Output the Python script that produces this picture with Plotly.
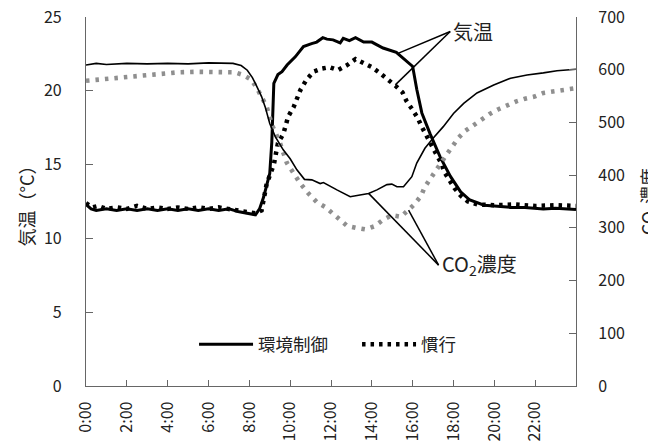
import plotly.graph_objects as go

# ---------------- data ----------------
# air temperature, environmental control (°C)
t_temp_ctrl = [0.0, 0.25, 0.5, 1.0, 1.5, 2.0, 2.5, 3.0, 3.5, 4.0, 4.5, 5.0, 5.5, 6.0, 6.5, 7.0,
               7.5, 8.0, 8.3, 8.5, 8.7, 9.0, 9.1, 9.2, 9.4, 9.6, 9.85, 10.25, 10.65, 11.05, 11.3,
               11.6, 11.8, 12.1, 12.45, 12.6, 12.9, 13.2, 13.6, 14.0, 14.55, 15.2, 15.55, 16.0,
               16.2, 16.45, 16.85, 17.35, 17.85, 18.35, 18.8, 19.5, 20.0, 20.8, 21.5, 22.4, 23.0, 24.0]
temp_ctrl = [12.3, 12.0, 11.9, 12.0, 11.9, 12.0, 11.9, 12.0, 11.9, 12.0, 11.9, 12.0, 11.9, 12.0, 11.9, 12.0,
             11.8, 11.7, 11.6, 12.0, 12.8, 14.4, 16.5, 20.5, 21.1, 21.3, 21.75, 22.3, 23.0, 23.2, 23.3,
             23.6, 23.5, 23.45, 23.25, 23.55, 23.4, 23.6, 23.3, 23.3, 22.9, 22.6, 22.2, 21.65,
             20.1, 18.5, 17.1, 15.5, 14.2, 13.15, 12.6, 12.25, 12.2, 12.1, 12.1, 12.0, 12.05, 11.95]

# air temperature, conventional (°C)
t_temp_conv = [0.0, 0.3, 0.6, 1.0, 1.5, 2.0, 2.5, 3.0, 3.5, 4.0, 4.5, 5.0, 5.5, 6.0, 6.5, 7.0, 7.5,
               8.0, 8.3, 8.6, 8.85, 9.2, 9.4, 9.67, 9.9, 10.17, 10.5, 10.8, 11.15, 11.55, 11.93,
               12.34, 12.8, 13.2, 13.6, 14.0, 14.4, 14.77, 15.15, 15.5, 15.7, 16.0, 16.25, 16.45,
               16.7, 16.95, 17.16, 17.4, 17.55, 17.8, 18.05, 18.35, 18.7, 19.2, 20.0, 21.0, 22.0, 23.0, 24.0]
temp_conv = [12.4, 12.1, 12.2, 12.0, 12.1, 12.0, 12.2, 12.0, 12.1, 12.0, 12.1, 12.0, 12.1, 12.0, 12.1, 12.0, 11.9,
             11.8, 11.7, 11.9, 13.7, 15.0, 16.45, 17.1, 18.25, 18.9, 20.05, 20.75, 21.3, 21.5, 21.6,
             21.4, 21.75, 22.15, 21.9, 21.6, 21.2, 20.8, 20.35, 19.9, 19.3, 18.7, 18.15, 17.55,
             16.95, 16.3, 15.7, 15.1, 14.5, 13.95, 13.4, 12.9, 12.5, 12.3, 12.25, 12.3, 12.2, 12.25, 12.2]

# CO2 concentration, environmental control (ppm)
t_co2_ctrl = [0.0, 0.5, 1.0, 2.0, 3.0, 4.0, 5.0, 6.0, 7.2, 7.6, 7.9, 8.15, 8.37, 8.6, 8.78, 9.0, 9.27,
              9.66, 10.0, 10.33, 10.7, 11.06, 11.47, 11.63, 12.29, 12.94, 13.35, 13.84, 14.25, 14.74,
              14.98, 15.23, 15.55, 15.96, 16.2, 16.6, 17.0, 17.5, 18.0, 18.5, 19.15, 19.97, 20.8,
              21.6, 22.4, 23.07, 24.0]
co2_ctrl = [609, 612, 610, 612, 611, 612, 611, 613, 612, 608, 599, 585, 568, 549, 529, 498, 473,
            448, 431, 410, 392, 391, 384, 386, 372, 359, 362, 365, 372, 382,
            383, 378, 378, 397, 423, 451, 470, 492, 517, 536, 556, 571, 584,
            590, 594, 598, 601]

# CO2 concentration, conventional (ppm)
t_co2_conv = [0.0, 0.5, 1.5, 2.5, 3.5, 4.5, 5.4, 6.7, 7.3, 7.7, 8.1, 8.37, 8.6, 8.85, 9.1, 9.5, 9.84,
              10.16, 10.5, 10.9, 11.3, 11.7, 12.04, 12.42, 12.78, 13.24, 13.7, 14.13, 14.54, 14.98,
              15.43, 16.04, 16.4, 16.6, 16.9, 17.16, 17.44, 17.68, 17.97, 18.25, 18.58, 18.96, 19.35,
              19.77, 20.2, 20.62, 21.08, 21.5, 21.96, 22.4, 22.88, 23.37, 24.0]
co2_conv = [579, 581, 584, 588, 592, 595, 596, 596, 595, 590, 581, 565, 546, 530, 496, 461, 423,
            403, 384, 365, 349, 340, 329, 316, 304, 300, 297, 303, 315, 324,
            321, 343, 360, 378, 394, 411, 426, 440, 455, 471, 484, 495, 506,
            516, 525, 533, 540, 545, 549, 556, 559, 562, 565]

x_tickvals = [0, 2, 4, 6, 8, 10, 12, 14, 16, 18, 20, 22]
x_ticktext = ["0:00", "2:00", "4:00", "6:00", "8:00", "10:00", "12:00", "14:00",
              "16:00", "18:00", "20:00", "22:00"]

# ---------------- figure ----------------
FONT = "Noto Sans CJK JP"
TXT = "#222222"
AX = "#666666"

fig = go.Figure()
fig.add_trace(go.Scatter(x=t_co2_conv, y=co2_conv, yaxis="y2", mode="lines",
                         line=dict(color="#8f8f8f", width=4.6, dash="3.5px,6px"), showlegend=False))
fig.add_trace(go.Scatter(x=t_co2_ctrl, y=co2_ctrl, yaxis="y2", mode="lines",
                         line=dict(color="black", width=1.6), showlegend=False))
fig.add_trace(go.Scatter(x=t_temp_conv, y=temp_conv, mode="lines", name="慣行",
                         line=dict(color="black", width=4.5, dash="3.5px,5px")))
fig.add_trace(go.Scatter(x=t_temp_ctrl, y=temp_ctrl, mode="lines", name="環境制御",
                         line=dict(color="black", width=3)))

# pointer lines for labels
for (x0, y0, x1, y1) in [(17.84, 24.02, 15.31, 22.55), (17.84, 24.02, 15.15, 20.4),
                         (17.27, 8.19, 13.84, 13.05), (17.27, 8.19, 15.8, 11.92)]:
    fig.add_shape(type="line", xref="x", yref="y", x0=x0, y0=y0, x1=x1, y1=y1,
                  line=dict(color="black", width=1.5))

fig.add_annotation(x=17.9, y=24.0, xref="x", yref="y", text="気温", showarrow=False,
                   xanchor="left", yanchor="middle", font=dict(size=20, color=TXT, family=FONT))
fig.add_annotation(x=17.32, y=8.2, xref="x", yref="y", text="CO<sub>2</sub>濃度", showarrow=False,
                   xanchor="left", yanchor="middle", font=dict(size=20, color=TXT, family=FONT))

fig.update_layout(
    width=656, height=441,
    margin=dict(l=78, r=88, t=9, b=63, autoexpand=False),
    paper_bgcolor="white", plot_bgcolor="white",
    font=dict(family=FONT, size=16, color=TXT),
    legend=dict(orientation="h", x=0.2205, y=0.113, xanchor="left", yanchor="middle",
                itemwidth=54, entrywidth=94, entrywidthmode="pixels",
                font=dict(size=17.5, color=TXT, family=FONT), traceorder="reversed",
                bgcolor="rgba(0,0,0,0)"),
    xaxis=dict(range=[0, 24], tickvals=x_tickvals, ticktext=x_ticktext, tickangle=-90,
               showgrid=False, zeroline=False, showline=True, linecolor=AX, linewidth=1.3,
               ticks="inside", ticklen=6, tickcolor=AX, ticklabelstandoff=8, automargin=False,
               ticklabeloverflow="allow",
               tickfont=dict(size=16, color=TXT, family=FONT)),
    yaxis=dict(range=[0, 25], dtick=5, showgrid=False, zeroline=False, showline=True,
               linecolor=AX, linewidth=1.3, ticks="inside", ticklen=7, tickcolor=AX,
               ticklabelstandoff=20, automargin=False, ticklabeloverflow="allow",
               tickfont=dict(size=16, color=TXT, family=FONT),
               title=dict(text="気温（°C）", standoff=4, font=dict(size=18, color=TXT, family=FONT))),
    yaxis2=dict(range=[0, 700], dtick=100, overlaying="y", side="right", showgrid=False,
                zeroline=False, showline=True, linecolor=AX, linewidth=1.3, ticks="inside",
                ticklen=7, tickcolor=AX, ticklabelstandoff=18, automargin=False,
                ticklabeloverflow="allow",
                tickfont=dict(size=16, color=TXT, family=FONT),
                title=dict(text="CO<sub>2</sub>濃度", standoff=22,
                           font=dict(size=18, color=TXT, family=FONT))),
)

fig.write_html("out.html")
